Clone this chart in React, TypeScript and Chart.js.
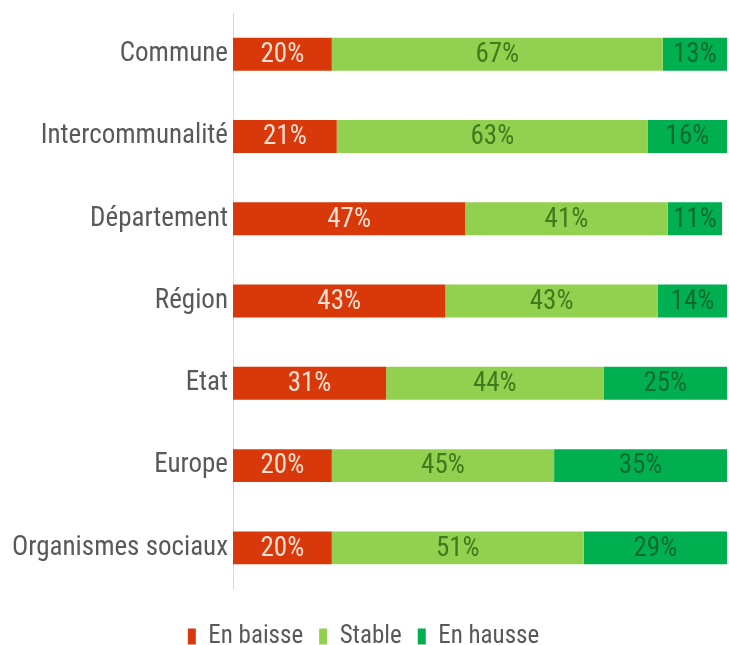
import React, { useEffect, useRef } from "react";
import { Chart, registerables } from "chart.js";

Chart.register(...registerables);

const categories = [
  "Commune",
  "Intercommunalité",
  "Département",
  "Région",
  "Etat",
  "Europe",
  "Organismes sociaux",
];
const enBaisse = [20, 21, 47, 43, 31, 20, 20];
const stable = [67, 63, 41, 43, 44, 45, 51];
const enHausse = [13, 16, 11, 14, 25, 35, 29];
const seriesNames = ["En baisse", "Stable", "En hausse"];

const FONT = "'Roboto Condensed', 'Liberation Sans Narrow', sans-serif";
const labelColors = ["#fbe0d2", "#3f7a1c", "#0f6b2e"];

const dataLabelPlugin = {
  id: "barValueLabels",
  afterDatasetsDraw(chart: any) {
    const ctx = chart.ctx;
    ctx.save();
    ctx.font = `27px ${FONT}`;
    ctx.textAlign = "center";
    ctx.textBaseline = "middle";
    chart.data.datasets.forEach((ds: any, di: number) => {
      const meta = chart.getDatasetMeta(di);
      meta.data.forEach((bar: any, i: number) => {
        const v = ds.data[i];
        const cx = (bar.x + bar.base) / 2;
        ctx.fillStyle = labelColors[di];
        ctx.fillText(`${v}%`, cx, bar.y + 1);
      });
    });
    ctx.restore();
  },
};

export default function App() {
  const ref = useRef<HTMLCanvasElement | null>(null);
  useEffect(() => {
    if (!ref.current) return;
    const chart = new Chart(ref.current, {
      type: "bar",
      data: {
        labels: categories,
        datasets: [
          { label: seriesNames[0], data: enBaisse, backgroundColor: "#d8380a" },
          { label: seriesNames[1], data: stable, backgroundColor: "#92d050" },
          { label: seriesNames[2], data: enHausse, backgroundColor: "#00b050" },
        ],
      },
      options: {
        indexAxis: "y",
        responsive: false,
        animation: false,
        layout: { padding: { top: 12, right: 2, left: 0, bottom: -14 } },
        datasets: {
          bar: { barPercentage: 0.8, categoryPercentage: 0.5 },
        },
        scales: {
          x: {
            stacked: true,
            min: 0,
            max: 100,
            display: true,
            grid: { display: false, drawTicks: false },
            border: { display: false },
            ticks: { display: false },
            afterFit(scale: any) {
              scale.height = 19;
            },
          },
          y: {
            stacked: true,
            grid: { display: false, drawTicks: false },
            border: { display: true, color: "#d9d9d9", width: 1 },
            ticks: {
              padding: 5,
              color: "#595959",
              font: { family: FONT, size: 27, lineHeight: 0.6 },
            },
            afterFit(scale: any) {
              scale.width = 233;
            },
          },
        },
        plugins: {
          legend: {
            position: "bottom",
            labels: {
              boxWidth: 8,
              boxHeight: 16,
              padding: 16,
              color: "#595959",
              font: { family: FONT, size: 25 },
            },
          },
          tooltip: { enabled: false },
        },
      },
      plugins: [dataLabelPlugin],
    });
    return () => chart.destroy();
  }, []);
  return (
    <div style={{ position: "absolute", left: 0, top: 0, width: 729, height: 645, background: "#fff" }}>
      <canvas ref={ref} width={729} height={645} />
    </div>
  );
}
